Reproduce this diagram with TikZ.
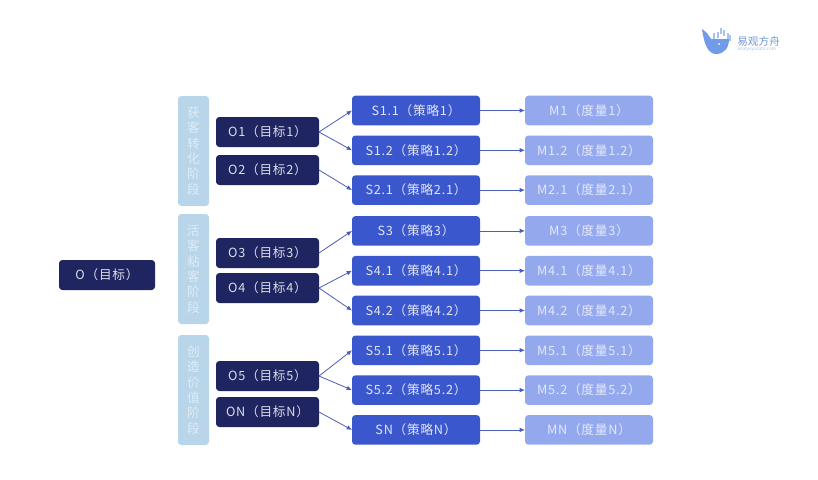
\documentclass[tikz,border=0pt]{standalone}
\usepackage{fontspec}
\usepackage{xcolor}
\usetikzlibrary{arrows.meta,positioning}
\setmainfont{Noto Sans CJK SC}
\newfontfamily\boxfont[LetterSpace=6]{Noto Sans CJK SC}
\definecolor{navy}{HTML}{1F2560}
\definecolor{royal}{HTML}{3B57CE}
\definecolor{periwinkle}{HTML}{94A8EE}
\definecolor{pale}{HTML}{B9D5EA}
\definecolor{link}{HTML}{4A5DB9}
\definecolor{whale}{HTML}{6F9BE8}

\begin{document}
\begin{tikzpicture}[
  x=0.75pt, y=-0.75pt,
  box/.style={rectangle, rounded corners=2.5pt, inner sep=0pt, outer sep=0pt, align=center, font=\boxfont\fontsize{9.5}{11}\selectfont},
  goal/.style={box, fill=navy, text=white!85!navy, minimum width=77.25pt, minimum height=22.5pt},
  strategy/.style={box, fill=royal, text=white!85!royal, minimum width=96pt, minimum height=22.2pt},
  metric/.style={box, fill=periwinkle, text=white!75!periwinkle, minimum width=96pt, minimum height=22.2pt},
  phase/.style={box, fill=pale, text=white!55!pale, minimum width=23.25pt, minimum height=82.5pt, font=\fontsize{9.5}{11.5}\selectfont},
  arr/.style={-{Latex[length=4pt,width=3.5pt]}, line width=0.6pt, link}
]
\useasboundingbox (0,0) rectangle (818,479);

\node[goal, minimum width=72pt] (o) at (107,275) {O（目标）};

\node[phase] (ph1) at (193.5,151) {获\\客\\转\\化\\阶\\段};
\node[phase] (ph2) at (193.5,269) {活\\客\\粘\\客\\阶\\段};
\node[phase] (ph3) at (193.5,390) {创\\造\\价\\值\\阶\\段};

\node[goal] (o1) at (267.5,132) {O1（目标1）};
\node[goal] (o2) at (267.5,170) {O2（目标2）};
\node[goal] (o3) at (267.5,253) {O3（目标3）};
\node[goal] (o4) at (267.5,288) {O4（目标4）};
\node[goal] (o5) at (267.5,376) {O5（目标5）};
\node[goal] (on) at (267.5,412) {ON（目标N）};

\node[strategy] (s11) at (416,110.5) {S1.1（策略1）};
\node[strategy, below=7.65pt of s11] (s12) {S1.2（策略1.2）};
\node[strategy, below=7.65pt of s12] (s21) {S2.1（策略2.1）};
\node[strategy, below=8.4pt of s21] (s3) {S3（策略3）};
\node[strategy, below=7.65pt of s3] (s41) {S4.1（策略4.1）};
\node[strategy, below=7.65pt of s41] (s42) {S4.2（策略4.2）};
\node[strategy, below=7.65pt of s42] (s51) {S5.1（策略5.1）};
\node[strategy, below=7.65pt of s51] (s52) {S5.2（策略5.2）};
\node[strategy, below=7.65pt of s52] (sn) {SN（策略N）};

\node[metric, right=33.75pt of s11] (m11) {M1（度量1）};
\node[metric, right=33.75pt of s12] (m12) {M1.2（度量1.2）};
\node[metric, right=33.75pt of s21] (m21) {M2.1（度量2.1）};
\node[metric, right=33.75pt of s3] (m3) {M3（度量3）};
\node[metric, right=33.75pt of s41] (m41) {M4.1（度量4.1）};
\node[metric, right=33.75pt of s42] (m42) {M4.2（度量4.2）};
\node[metric, right=33.75pt of s51] (m51) {M5.1（度量5.1）};
\node[metric, right=33.75pt of s52] (m52) {M5.2（度量5.2）};
\node[metric, right=33.75pt of sn] (mn) {MN（度量N）};

\draw[arr] (o1.east) -- (s11.west);
\draw[arr] (o1.east) -- (s12.west);
\draw[arr] (o2.east) -- (s21.west);
\draw[arr] (o3.east) -- (s3.west);
\draw[arr] (o4.east) -- (s41.west);
\draw[arr] (o4.east) -- (s42.west);
\draw[arr] (o5.east) -- (s51.west);
\draw[arr] (o5.east) -- (s52.west);
\draw[arr] (on.east) -- (sn.west);

\foreach \s/\m in {s11/m11,s12/m12,s21/m21,s3/m3,s41/m41,s42/m42,s51/m51,s52/m52,sn/mn}
  \draw[arr] (\s) -- (\m);

% logo
\fill[whale] (702,29) -- (707,33) -- (711,39) -- (729,39) .. controls (729,47) and (725,54) .. (716,54)
  .. controls (708,54) and (704,44) .. (702,29) -- cycle;
\foreach \bx/\bt in {713/33,717/32,720/28,723/30,727/33,729/35}
  \fill[whale!60] (\bx,\bt) rectangle ++(1.8,6);
\fill[white] (719,44) circle (1);
\node[font=\fontsize{8}{9}\selectfont, text=whale!85!gray, anchor=west, inner sep=0pt] (logotext) at (737,41) {易观方舟};
\node[font=\fontsize{3.5}{4}\selectfont, text=whale!60, anchor=west, inner sep=0pt] (logourl) at (737,49.5) {analysysdata.com};
\end{tikzpicture}
\end{document}
